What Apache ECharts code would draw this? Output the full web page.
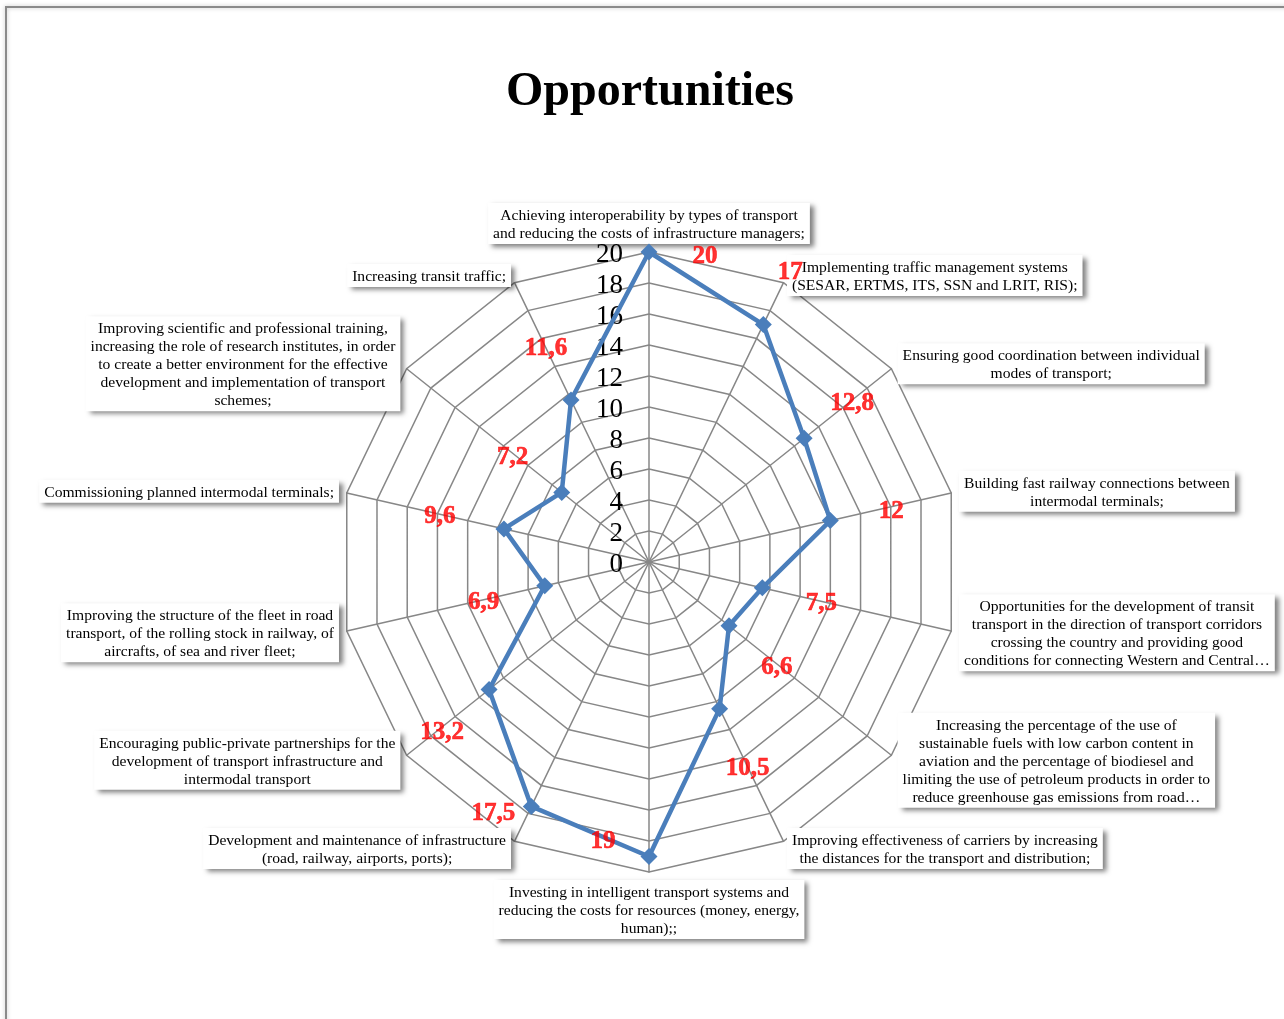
<!DOCTYPE html>
<html>
<head>
<meta charset="utf-8">
<title>Opportunities</title>
<script src="https://cdn.jsdelivr.net/npm/echarts@6/dist/echarts.min.js"></script>
<style>
  html, body { margin: 0; padding: 0; background: #fff; }
  #chart { width: 1284px; height: 1019px; }
</style>
</head>
<body>
<div id="chart"></div>
<script>
// indicator names, clockwise from the top
const categories = [
  'Achieving interoperability by types of transport\nand reducing the costs of infrastructure managers;',
  'Implementing traffic management systems\n(SESAR, ERTMS, ITS, SSN and LRIT, RIS);',
  'Ensuring good coordination between individual\nmodes of transport;',
  'Building fast railway connections between\nintermodal terminals;',
  'Opportunities for the development of transit\ntransport in the direction of transport corridors\ncrossing the country and providing good\nconditions for connecting Western and Central\u2026',
  'Increasing the percentage of the use of\nsustainable fuels with low carbon content in\naviation and the percentage of biodiesel and\nlimiting the use of petroleum products in order to\nreduce greenhouse gas emissions from road\u2026',
  'Improving effectiveness of carriers by increasing\nthe distances for the transport and distribution;',
  'Investing in intelligent transport systems and\nreducing the costs for resources (money, energy,\nhuman);;',
  'Development and maintenance of infrastructure\n(road, railway, airports, ports);',
  'Encouraging public-private partnerships for the\ndevelopment of transport infrastructure and\nintermodal transport',
  'Improving the structure of the fleet in road\ntransport, of the rolling stock in railway, of\naircrafts, of sea and river fleet;',
  'Commissioning planned intermodal terminals;',
  'Improving scientific and professional training,\nincreasing the role of research institutes, in order\nto create a better environment for the effective\ndevelopment and implementation of transport\nschemes;',
  'Increasing transit traffic;'
];

const values = [20, 17, 12.8, 12, 7.5, 6.6, 10.5, 19, 17.5, 13.2, 6.9, 9.6, 7.2, 11.6];

const axisMin = 0;
const axisMax = 20;
const axisStep = 2;

// where each red value label sits relative to its point
const labelOffsets = [
  [56, 5], [27, -52], [48, -35], [61, -9], [59, 16], [48, 42], [28, 60],
  [-46, -15], [-38, 7], [-47, 43], [-61, 17], [-64, -12], [-49, -35], [-25, -51]
];

const serif = '"Liberation Serif", "Times New Roman", serif';
const center = [649, 562];
const radius = 310;

// echarts lays radar indicators out counter-clockwise, so feed them reversed
const n = categories.length;
const radarOrder = categories.map((_, i) => (n - i) % n);
const radarNames = radarOrder.map(i => categories[i]);
const radarValues = radarOrder.map(i => values[i]);

const chart = echarts.init(document.getElementById('chart'));

const option = {
  backgroundColor: '#fff',
  animation: false,
  title: {
    text: 'Opportunities',
    left: 645,
    top: 64,
    textAlign: 'center',
    textStyle: { fontFamily: serif, fontSize: 48, fontWeight: 'bold', color: '#000' }
  },
  graphic: [
    {
      type: 'rect',
      shape: { x: 6, y: 7, width: 1400, height: 1100 },
      style: {
        fill: 'none',
        stroke: '#8a8a8a',
        lineWidth: 2,
        shadowBlur: 4,
        shadowColor: 'rgba(0,0,0,0.25)'
      },
      silent: true,
      z: -1
    }
  ],
  radar: {
    center: center,
    radius: radius,
    startAngle: 90,
    shape: 'polygon',
    splitNumber: (axisMax - axisMin) / axisStep,
    nameGap: 8,
    indicator: radarNames.map(name => ({ name: name, min: axisMin, max: axisMax })),
    axisName: {
      color: '#000',
      fontFamily: serif,
      fontSize: 15.6,
      lineHeight: 18,
      backgroundColor: '#fff',
      padding: [4, 5, 1, 5],
      shadowColor: 'rgba(0,0,0,0.5)',
      shadowBlur: 5,
      shadowOffsetX: 4,
      shadowOffsetY: 3,
      formatter: name => name.split('\n').map(l => '{c|' + l + '}').join('\n'),
      rich: {
        c: { align: 'center', fontFamily: serif, fontSize: 15.6, lineHeight: 18, color: '#000' }
      }
    },
    splitLine: { lineStyle: { color: '#878787', width: 1.5 } },
    splitArea: { show: false },
    axisLine: { lineStyle: { color: '#878787', width: 1.5 } },
    axisTick: { show: false },
    axisLabel: { show: false }
  },
  // polar overlay: same center and radius, used for tick labels and value labels
  polar: { center: center, radius: radius },
  angleAxis: {
    type: 'value',
    min: 0,
    max: n,
    startAngle: 90,
    show: false
  },
  radiusAxis: {
    type: 'value',
    min: axisMin,
    max: axisMax,
    interval: axisStep,
    axisLine: { show: false },
    axisTick: { show: false },
    splitLine: { show: false },
    axisLabel: {
      color: '#000',
      margin: 26,
      formatter: v => '{a|' + v + '}',
      rich: { a: { fontFamily: serif, fontSize: 27, color: '#000', padding: [6, 0, 0, 0] } }
    }
  },
  series: [
    {
      type: 'radar',
      symbol: 'diamond',
      symbolSize: 17,
      lineStyle: { color: '#4a7ebb', width: 4.5 },
      itemStyle: { color: '#4a7ebb' },
      z: 3,
      data: [{ value: radarValues, name: 'Opportunities' }]
    },
    {
      type: 'scatter',
      coordinateSystem: 'polar',
      symbolSize: 1,
      itemStyle: { color: 'rgba(0,0,0,0)' },
      z: 4,
      label: {
        show: true,
        position: 'inside',
        color: '#ff0000',
        fontFamily: serif,
        fontWeight: 'bold',
        fontSize: 25,
        textBorderColor: '#ff0000',
        textBorderWidth: 0.6,
        formatter: p => String(p.value[0]).replace('.', ',')
      },
      data: values.map((v, i) => ({ value: [v, i], label: { offset: labelOffsets[i] } }))
    }
  ]
};

chart.setOption(option);
</script>
</body>
</html>
